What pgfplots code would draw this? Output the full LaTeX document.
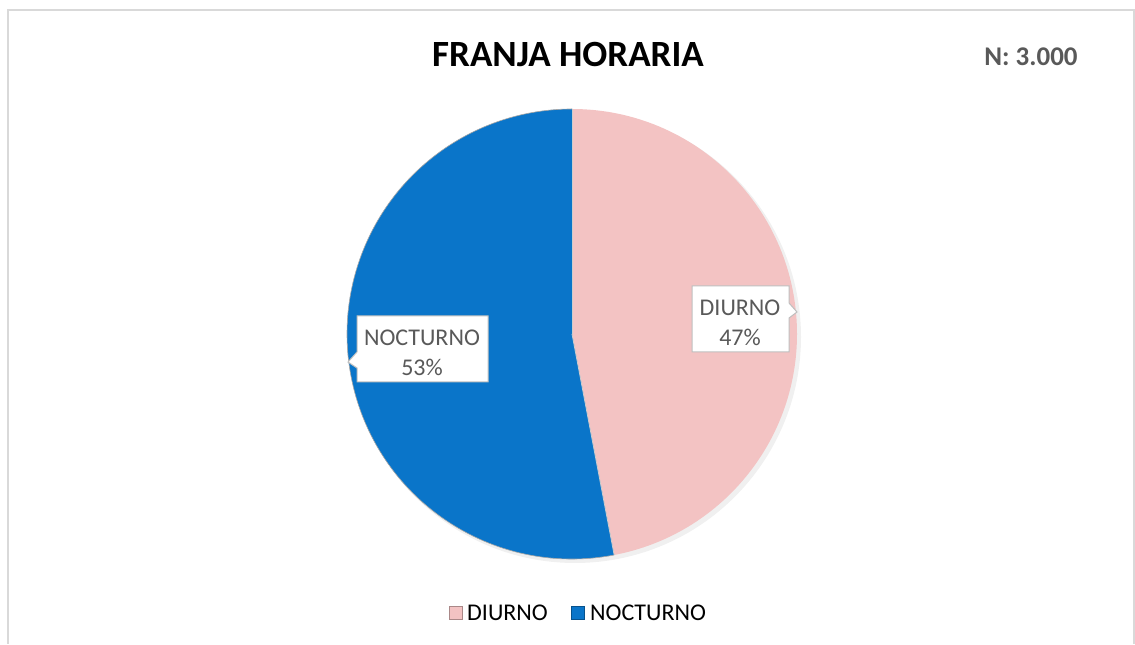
\documentclass[border=0pt]{standalone}
\usepackage{fontspec}
\setmainfont{Carlito}
\usepackage{pgfplots}
\pgfplotsset{compat=1.18}
\definecolor{cpink}{HTML}{F3C3C3}
\definecolor{cblue}{HTML}{0A75C9}
\definecolor{ctext}{HTML}{595959}
\definecolor{cbox}{HTML}{BFBFBF}

% share of each slice (%)
\def\diurno{47}
\def\nocturno{53}

\begin{document}
\begin{tikzpicture}
\begin{axis}[
    at={(0,0)}, anchor=south west,
    width=1135pt, height=644pt,
    scale only axis,
    xmin=0, xmax=1135,
    ymin=0, ymax=644,
    hide axis,
    clip=false,
]
\pgfmathsetmacro{\aend}{90-\diurno*3.6}
% frame
\draw[black!15, line width=1.2pt] (axis cs:8,0) -- (axis cs:8,634) -- (axis cs:1134,634) -- (axis cs:1134,0);
% soft shadow
\fill[black!6] (axis cs:575,307) circle[radius=226pt];
% slices
\fill[cpink] (axis cs:572,310) -- +(90:225pt) arc[start angle=90, end angle=\aend, radius=225pt] -- cycle;
\fill[cblue] (axis cs:572,310) -- +(\aend:225pt) arc[start angle=\aend, end angle=-270, radius=225pt] -- cycle;
\draw[white!80!black, line width=0.8pt] (axis cs:572,310) -- +(90:225pt);
\draw[white!80!black, line width=0.8pt] (axis cs:572,310) -- +(\aend:225pt);
\draw[black!35, line width=0.6pt] (axis cs:572,310) ++(\aend:225pt) arc[start angle=\aend, end angle=-270, radius=225pt];
% title and N
\node[font=\fontsize{37}{40}\selectfont\bfseries] at (axis cs:568,589) {FRANJA HORARIA};
\node[font=\fontsize{27}{30}\selectfont\bfseries, text=ctext] at (axis cs:1031,587) {N: 3.000};
% callouts
\filldraw[fill=white, draw=cbox, line width=1pt] (axis cs:692,292) -- (axis cs:789,292) -- (axis cs:789,326) -- (axis cs:797,332) -- (axis cs:789,341) -- (axis cs:789,358) -- (axis cs:692,358) -- cycle;
\node[font=\fontsize{24}{26}\selectfont, text=ctext] at (axis cs:740,336) {DIURNO};
\node[font=\fontsize{24}{26}\selectfont, text=ctext] at (axis cs:740,307) {\diurno\%};
\filldraw[fill=white, draw=cbox, line width=1pt] (axis cs:357,262) -- (axis cs:488,262) -- (axis cs:488,328) -- (axis cs:357,328) -- (axis cs:357,292) -- (axis cs:348,282) -- (axis cs:357,276) -- cycle;
\node[font=\fontsize{24}{26}\selectfont, text=ctext] at (axis cs:422,306) {NOCTURNO};
\node[font=\fontsize{24}{26}\selectfont, text=ctext] at (axis cs:422,277) {\nocturno\%};
% legend
\filldraw[fill=cpink, draw=cpink!70!black, line width=0.5pt] (axis cs:449,25) rectangle (axis cs:462,38);
\node[anchor=west, inner sep=0pt, font=\fontsize{24}{26}\selectfont] at (axis cs:467,31) {DIURNO};
\filldraw[fill=cblue, draw=cblue!70!black, line width=0.5pt] (axis cs:571,25) rectangle (axis cs:584,38);
\node[anchor=west, inner sep=0pt, font=\fontsize{24}{26}\selectfont] at (axis cs:590,31) {NOCTURNO};
\path (axis cs:0,0) rectangle (axis cs:1135,644);
\end{axis}
\end{tikzpicture}
\end{document}
